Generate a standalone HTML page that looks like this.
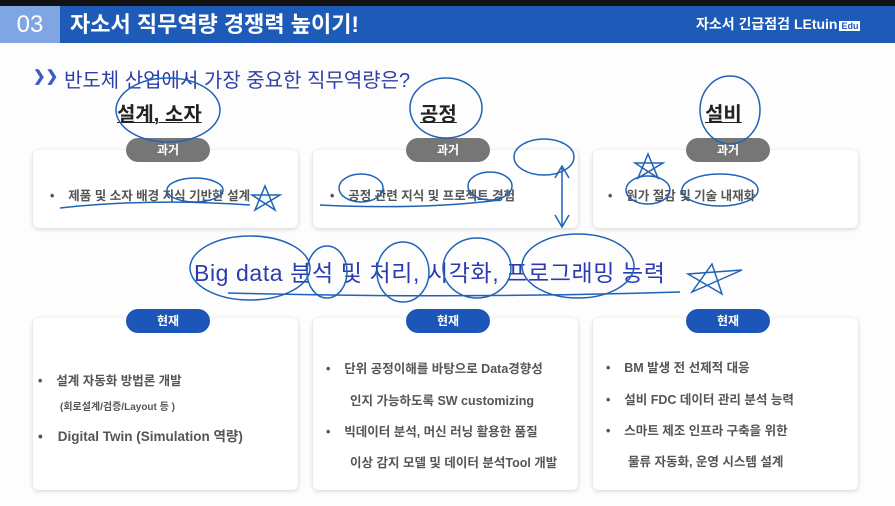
<!DOCTYPE html>
<html><head><meta charset="utf-8"><style>
*{margin:0;padding:0;box-sizing:border-box}
body{width:895px;height:506px;overflow:hidden;background:#fdfdfd;font-family:"Liberation Sans","Noto Sans CJK KR",sans-serif;position:relative}
.a{position:absolute}
.card{position:absolute;background:#fff;border-radius:6px;box-shadow:0 1px 5px rgba(0,0,0,.18)}
.pill{position:absolute;height:24px;width:84px;border-radius:12px;color:#fff;font-size:12px;font-weight:bold;text-align:center;line-height:24px}
.g{background:#767676}.b{background:#1b56b8}
.t{position:absolute;font-size:12.5px;font-weight:bold;color:#555;white-space:nowrap}
.h{position:absolute;font-size:20px;font-weight:bold;color:#222;text-decoration:underline;text-decoration-thickness:1px}
</style></head><body>
<div class="a" style="left:0;top:0;width:895px;height:6px;background:#111"></div>
<div class="a" style="left:0;top:6px;width:895px;height:37px;background:#1e5bb8"></div>
<div class="a" style="left:0;top:6px;width:60px;height:37px;background:#7fa6e3;color:#fff;font-size:24px;line-height:37px;text-align:center">03</div>
<div class="a" style="left:70px;top:6px;color:#fff;font-size:22px;font-weight:bold;line-height:37px">자소서 직무역량 경쟁력 높이기!</div>
<div class="a" style="left:696px;top:6px;color:#fff;font-size:14px;font-weight:bold;line-height:37px">자소서 긴급점검 LEtuin<span style="background:#fff;color:#1e5bb8;font-size:9px;padding:0 2px;margin-left:2px">Edu</span></div>
<div class="a" style="left:33px;top:67px;color:#3b5cc4;font-size:15px;font-weight:bold">&#10095;&#10095;</div>
<div class="a" style="left:64px;top:64px;color:#2f3fa8;font-size:20px">반도체 산업에서 가장 중요한 직무역량은?</div>
<div class="h" style="left:117px;top:98px">설계, 소자</div>
<div class="h" style="left:420px;top:98px">공정</div>
<div class="h" style="left:705px;top:98px">설비</div>

<div class="card" style="left:33px;top:150px;width:265px;height:78px"></div>
<div class="card" style="left:313px;top:150px;width:265px;height:78px"></div>
<div class="card" style="left:593px;top:150px;width:265px;height:78px"></div>
<div class="pill g" style="left:126px;top:138px">과거</div>
<div class="pill g" style="left:406px;top:138px">과거</div>
<div class="pill g" style="left:686px;top:138px">과거</div>
<div class="t" style="left:50px;top:185px">•&nbsp;&nbsp;&nbsp; 제품 및 소자 배경 지식 기반한 설계</div>
<div class="t" style="left:330px;top:185px">•&nbsp;&nbsp;&nbsp; 공정 관련 지식 및 프로젝트 경험</div>
<div class="t" style="left:608px;top:185px">•&nbsp;&nbsp;&nbsp; 원가 절감 및 기술 내재화</div>

<div class="a" style="left:194px;top:254px;color:#2d3bb0;font-size:23px;letter-spacing:0.6px;white-space:nowrap">Big data 분석 및 처리, 시각화, 프로그래밍 능력</div>

<div class="card" style="left:33px;top:318px;width:265px;height:172px"></div>
<div class="card" style="left:313px;top:318px;width:265px;height:172px"></div>
<div class="card" style="left:593px;top:318px;width:265px;height:172px"></div>
<div class="pill b" style="left:126px;top:309px">현재</div>
<div class="pill b" style="left:406px;top:309px">현재</div>
<div class="pill b" style="left:686px;top:309px">현재</div>
<div class="t" style="left:38px;top:370px">•&nbsp;&nbsp;&nbsp; 설계 자동화 방법론 개발</div>
<div class="t" style="left:60px;top:398px;font-size:10px">(회로설계/검증/Layout 등 )</div>
<div class="t" style="left:38px;top:425px;font-size:13.5px">•&nbsp;&nbsp;&nbsp; Digital Twin (Simulation 역량)</div>
<div class="t" style="left:326px;top:358px">•&nbsp;&nbsp;&nbsp; 단위 공정이해를 바탕으로 Data경향성</div>
<div class="t" style="left:350px;top:390px">인지 가능하도록 SW customizing</div>
<div class="t" style="left:326px;top:421px">•&nbsp;&nbsp;&nbsp; 빅데이터 분석, 머신 러닝 활용한 품질</div>
<div class="t" style="left:350px;top:452px">이상 감지 모델 및 데이터 분석Tool 개발</div>
<div class="t" style="left:606px;top:357px">•&nbsp;&nbsp;&nbsp; BM 발생 전 선제적 대응</div>
<div class="t" style="left:606px;top:389px">•&nbsp;&nbsp;&nbsp; 설비 FDC 데이터 관리 분석 능력</div>
<div class="t" style="left:606px;top:420px">•&nbsp;&nbsp;&nbsp; 스마트 제조 인프라 구축을 위한</div>
<div class="t" style="left:628px;top:451px">물류 자동화, 운영 시스템 설계</div>

<svg class="a" style="left:0;top:0" width="895" height="506" fill="none" stroke="#1f63b8" stroke-width="1.5">
<ellipse cx="168" cy="110" rx="52" ry="32"/>
<ellipse cx="446" cy="108" rx="36" ry="30"/>
<ellipse cx="730" cy="110" rx="30" ry="34"/>
<ellipse cx="250" cy="268" rx="60" ry="32"/>
<ellipse cx="327" cy="272" rx="20" ry="26"/>
<ellipse cx="403" cy="272" rx="26" ry="30"/>
<ellipse cx="477" cy="268" rx="34" ry="30"/>
<ellipse cx="578" cy="266" rx="56" ry="32"/>
<ellipse cx="195" cy="190" rx="28" ry="12"/>
<ellipse cx="361" cy="188" rx="22" ry="14"/>
<ellipse cx="490" cy="186" rx="22" ry="14"/>
<ellipse cx="544" cy="157" rx="30" ry="18"/>
<ellipse cx="648" cy="190" rx="22" ry="14"/>
<ellipse cx="720" cy="190" rx="38" ry="16"/>
<path d="M228 293 Q450 299 680 292"/>
<path d="M562 168 L562 225 M555 178 L562 166 L569 178 M555 215 L562 227 L569 215"/>
<path d="M692 292 L712 264 L722 294 L688 274 L742 270 Z"/>
<path d="M255 210 L265 186 L275 210 L252 195 L280 195 Z"/>
<path d="M638 178 L648 154 L658 178 L635 163 L663 163 Z"/>
<path d="M60 208 Q150 198 250 205 M320 205 Q420 210 500 200"/>
</svg>
</body></html>
